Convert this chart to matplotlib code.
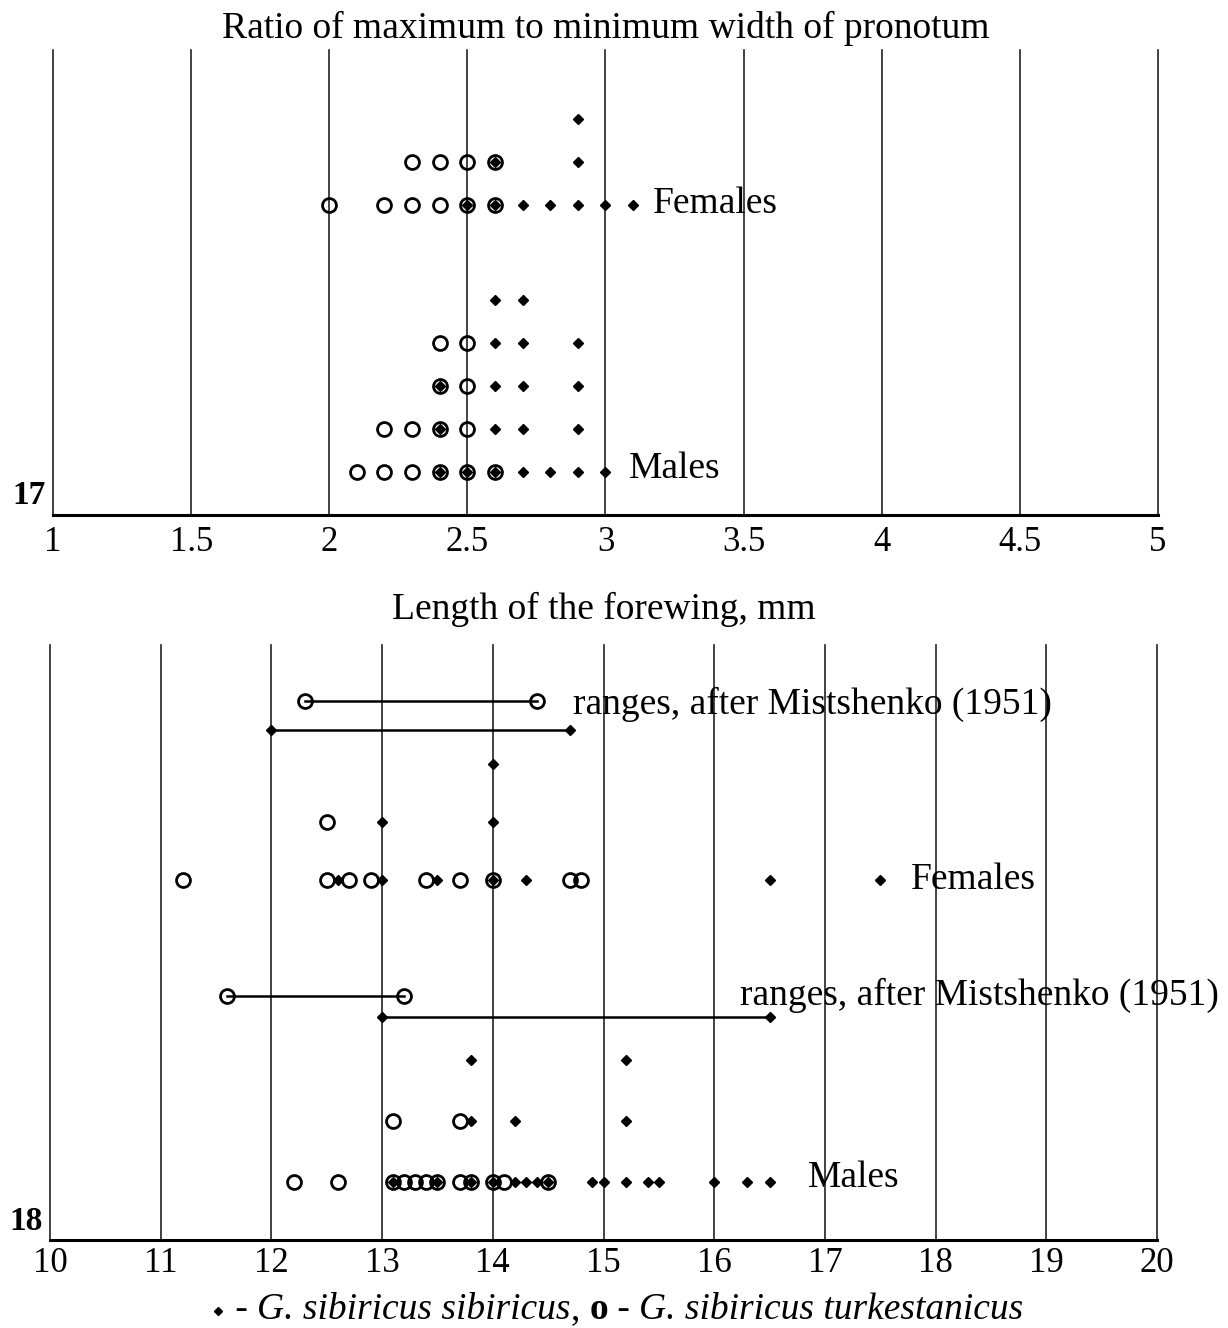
import matplotlib
import matplotlib.pyplot as plt
from matplotlib.lines import Line2D

matplotlib.use('Agg')

plt.rcParams['font.family'] = ['Liberation Serif', 'DejaVu Serif']

# Ratio of maximum to minimum width of pronotum (rows listed top to bottom)
ratio_fem_sib = [[2.9], [2.6, 2.9], [2.5, 2.6, 2.7, 2.8, 2.9, 3.0, 3.1]]
ratio_fem_tur = [[], [2.3, 2.4, 2.5, 2.6], [2.0, 2.2, 2.3, 2.4, 2.5, 2.6]]
ratio_male_sib = [[2.6, 2.7], [2.6, 2.7, 2.9], [2.4, 2.6, 2.7, 2.9],
                  [2.4, 2.6, 2.7, 2.9], [2.4, 2.5, 2.6, 2.7, 2.8, 2.9, 3.0]]
ratio_male_tur = [[], [2.4, 2.5], [2.4, 2.5], [2.2, 2.3, 2.4, 2.5],
                  [2.1, 2.2, 2.3, 2.4, 2.5, 2.6]]
ratio_ticks = [1, 1.5, 2, 2.5, 3, 3.5, 4, 4.5, 5]

# Length of the forewing, mm
wing_fem_sib = [[14.0], [13.0, 14.0],
                [12.6, 13.0, 13.5, 14.0, 14.3, 16.5, 17.5]]
wing_fem_tur = [[], [12.5],
                [11.2, 12.5, 12.7, 12.9, 13.4, 13.7, 14.0, 14.7, 14.8]]
wing_male_sib = [[13.8, 15.2], [13.8, 14.2, 15.2],
                 [13.1, 13.5, 13.8, 14.0, 14.2, 14.3, 14.4, 14.5, 14.9, 15.0,
                  15.2, 15.4, 15.5, 16.0, 16.3, 16.5]]
wing_male_tur = [[], [13.1, 13.7],
                 [12.2, 12.6, 13.1, 13.2, 13.3, 13.4, 13.5, 13.7, 13.8, 14.0,
                  14.1, 14.5]]
wing_fem_range_tur = [12.3, 14.4]
wing_fem_range_sib = [12.0, 14.7]
wing_male_range_tur = [11.6, 13.2]
wing_male_range_sib = [13.0, 16.5]
wing_ticks = list(range(10, 21))

range_label = 'ranges, after Mistshenko (1951)'

FS = 27
circ = dict(marker='o', ms=10, mfc='none', mec='black', mew=2.0, ls='none', zorder=3)
dot = dict(marker='D', ms=4.8, color='black', ls='none', zorder=4)


def draw_rows(ax, rows_y, sib, tur):
	for y, xs in zip(rows_y, tur):
		if xs:
			ax.plot(xs, [y] * len(xs), **circ)
	for y, xs in zip(rows_y, sib):
		if xs:
			ax.plot(xs, [y] * len(xs), **dot)


def style_axis(ax, ticks, top, title, title_pad, tick_pad):
	ax.set_xlim(ticks[0], ticks[-1])
	ax.set_ylim(0, top)
	for t in ticks:
		ax.axvline(t, color='#222222', lw=1.2, clip_on=False, zorder=1)
	for s in ['top', 'left', 'right']:
		ax.spines[s].set_visible(False)
	ax.spines['bottom'].set_linewidth(2.2)
	ax.spines['bottom'].set_zorder(5)
	ax.set_xticks(ticks)
	ax.set_xticklabels([f'{t:g}' for t in ticks])
	ax.tick_params(axis='x', length=0, pad=tick_pad, labelsize=25)
	ax.set_yticks([])
	ax.set_title(title, fontsize=FS, pad=title_pad)


fig = plt.figure(figsize=(12.28, 13.28), dpi=100)

# panel 17
ax1 = fig.add_axes([0.0432, 0.6122, 0.8997, 0.3501])
style_axis(ax1, ratio_ticks, 10.8, 'Ratio of maximum to minimum width of pronotum', 9, 8)
draw_rows(ax1, [9.2, 8.2, 7.2], ratio_fem_sib, ratio_fem_tur)
draw_rows(ax1, [5, 4, 3, 2, 1], ratio_male_sib, ratio_male_tur)
ax1.text(3.17, 7.23, 'Females', fontsize=FS, va='center', ha='left')
ax1.text(3.085, 1.08, 'Males', fontsize=FS, va='center', ha='left')

# panel 18
ax2 = fig.add_axes([0.0407, 0.0663, 0.9015, 0.4480])
style_axis(ax2, wing_ticks, 10.26, 'Length of the forewing, mm', 19, 5)
draw_rows(ax2, [8.2, 7.2, 6.2], wing_fem_sib, wing_fem_tur)
draw_rows(ax2, [3.1, 2.05, 1.0], wing_male_sib, wing_male_tur)

for rng, y, st in [(wing_fem_range_tur, 9.3, circ), (wing_fem_range_sib, 8.8, dot),
                   (wing_male_range_tur, 4.2, circ), (wing_male_range_sib, 3.85, dot)]:
	ax2.plot(rng, [y, y], color='black', lw=1.8, zorder=2)
	ax2.plot(rng, [y, y], **st)

ax2.text(14.72, 9.23, range_label, fontsize=FS, va='center', ha='left')
ax2.text(16.23, 4.21, range_label, fontsize=FS, va='center', ha='left')
ax2.text(17.78, 6.21, 'Females', fontsize=FS, va='center', ha='left')
ax2.text(16.85, 1.07, 'Males', fontsize=FS, va='center', ha='left')

# panel numbers
fig.text(0.010, 1 - 495 / 1328, '17', fontsize=24, fontweight='bold', va='center', ha='left')
fig.text(0.008, 1 - 1222 / 1328, '18', fontsize=24, fontweight='bold', va='center', ha='left')

# legend line built from pieces
leg_y = 1 - 1311 / 1328
fig.add_artist(Line2D([218 / 1228], [leg_y], marker='D', ms=4.2, color='black',
                      transform=fig.transFigure))
t1 = fig.text(226 / 1228, 1 - 1327 / 1328, ' - ', fontsize=FS, va='bottom')
a2 = ax2.annotate('G. sibiricus sibiricus', xy=(1, 0), xycoords=t1, va='bottom',
                  fontsize=FS, style='italic', annotation_clip=False)
a3 = ax2.annotate(', ', xy=(1, 0), xycoords=a2, va='bottom', fontsize=FS,
                  annotation_clip=False)
a4 = ax2.annotate('o', xy=(1, 0), xycoords=a3, va='bottom', fontsize=FS,
                  fontweight='bold', annotation_clip=False)
a5 = ax2.annotate(' - ', xy=(1, 0), xycoords=a4, va='bottom', fontsize=FS,
                  annotation_clip=False)
a6 = ax2.annotate('G. sibiricus turkestanicus', xy=(1, 0), xycoords=a5, va='bottom',
                  fontsize=FS, style='italic', annotation_clip=False)

fig.savefig('out.png', dpi=100)
